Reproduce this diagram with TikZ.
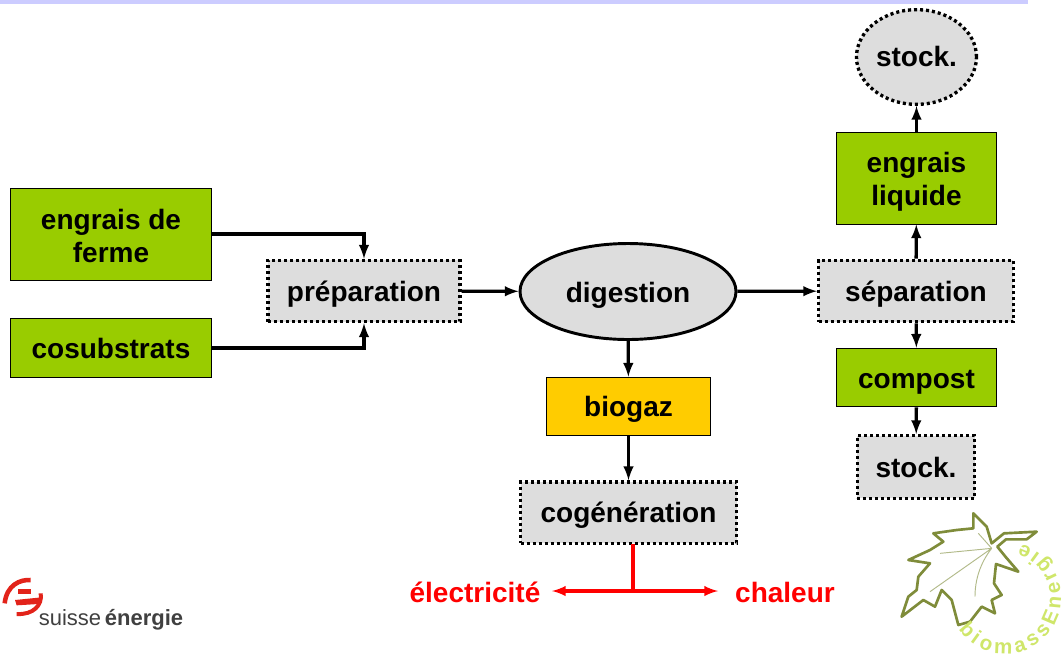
\documentclass[tikz,border=0pt]{standalone}
\usepackage{fontspec}
\setmainfont{Liberation Sans}
\usetikzlibrary{shapes.geometric,decorations.text}

\definecolor{barcol}{HTML}{CCCCFF}
\definecolor{greencol}{HTML}{99CC00}
\definecolor{goldcol}{HTML}{FFCC00}
\definecolor{greycol}{HTML}{DDDDDD}
\definecolor{redcol}{HTML}{FF0000}
\definecolor{logored}{HTML}{E2231A}
\definecolor{leafcol}{HTML}{7F8C3A}
\definecolor{ringcol}{HTML}{CFE66A}

\tikzset{
  label/.style={font=\fontsize{21}{24.75}\selectfont\bfseries,align=center,inner sep=0pt},
  oneline/.style={text height=15.5pt,text depth=0.5pt},
  input/.style={label,rectangle,draw=black,line width=0.7pt,fill=greencol},
  gasbox/.style={label,oneline,rectangle,draw=black,line width=0.7pt,fill=goldcol},
  process/.style={label,oneline,rectangle,draw=black,fill=greycol,line width=2.5pt,dash pattern=on 2.3pt off 2.2pt},
  roundstock/.style={label,ellipse,draw=black,fill=greycol,line width=2.5pt,dash pattern=on 2.3pt off 2.2pt},
  flow/.style={line width=2.5pt,-latex},
  redflow/.style={line width=2.5pt,-latex,draw=redcol}
}

\begin{document}
\begin{tikzpicture}[x=0.75pt,y=-0.75pt]

\useasboundingbox (0,0) rectangle (1064,669);
\fill[barcol] (0,0) rectangle (1028,3.5);

  \node (ferme) at (111,234) [input,minimum width=151pt,minimum height=69pt] {\rule{0pt}{18pt}engrais de\\ferme};
  \node (cosub) at (111,348) [input,oneline,minimum width=151pt,minimum height=44pt] {cosubstrats};
  \node (prep) at (364,291) [process,minimum width=144pt,minimum height=46pt] {préparation};
  \node (dig) at (628,291.5) [label,oneline,ellipse,draw=black,fill=greycol,line width=2.2pt,minimum width=162pt,minimum height=72pt,text height=16.5pt] {digestion};
  \node (sep) at (916,291) [process,minimum width=146pt,minimum height=46pt] {séparation};
  \node (liq) at (916.5,178) [input,minimum width=120pt,minimum height=69pt] {\rule{0pt}{21pt}engrais\\liquide};
  \node (stockup) at (916.5,57) [roundstock,oneline,minimum width=90pt,minimum height=71pt,text height=14.5pt] {stock.};
  \node (compost) at (916.5,377.5) [input,oneline,minimum width=120pt,minimum height=44pt,text height=16.5pt] {compost};
  \node (stockdown) at (916,467) [process,minimum width=88pt,minimum height=47pt] {stock.};
  \node (gaz) at (628.5,406.5) [gasbox,minimum width=123pt,minimum height=44pt] {biogaz};
  \node (cogen) at (628.5,512.5) [process,minimum width=162pt,minimum height=46pt] {cogénération};

  \node (elec) at (475,592) [label,oneline,text=redcol] {électricité};
  \node (chal) at (785,592) [label,oneline,text=redcol] {chaleur};
  \coordinate (fork) at (633,591);
  \coordinate (forktop) at (633,544);
  \coordinate (elecend) at (552,591);
  \coordinate (chalend) at (718,591);

\draw[flow] (ferme.east) -| (prep.north);
\draw[flow] (cosub.east) -| (prep.south);
\draw[flow] (prep) -- (dig);
\draw[flow] (dig) -- (sep);
\draw[flow] (sep) -- (liq);
\draw[flow] (liq) -- (stockup);
\draw[flow] (sep) -- (compost);
\draw[flow] (compost) -- (stockdown);
\draw[flow] (dig) -- (gaz);
\draw[flow] (gaz) -- (cogen);

\draw[line width=2.4pt,draw=redcol] (forktop) -- (fork);
\draw[redflow] (fork) -- (elecend);
\draw[redflow] (fork) -- (chalend);

%%% suisse energie logo %%%

\begin{scope}[shift={(0,540)},x=0.25pt,y=-0.25pt]
  \draw[logored,line width=3.4pt] (14,190) .. controls (20,135) and (60,118) .. (92,120);
  \draw[logored,line width=3pt] (122,160) .. controls (128,195) and (100,225) .. (50,222);
  \fill[logored] (55,148) rectangle (92,162);
  \fill[logored] (45,180) -- (125,172) -- (115,192) -- (50,196) -- cycle;
\end{scope}
\node (suisse) at (111,620) [inner sep=0pt,text=black!75,font=\fontsize{16.5}{16.5}\selectfont] {suisse\,\textbf{énergie}};

%%% leaf logo %%%

\begin{scope}[shift={(880,500)},x=0.25pt,y=-0.25pt]
  \draw[leafcol,line width=2pt,line join=round,fill=white]
    (280,40) -- (320,80) -- (335,130) -- (372,100) -- (470,95) -- (440,118) -- (378,118) -- (352,140)
    -- (378,172) -- (415,215) -- (348,192) -- (342,250) -- (365,285) -- (335,300) -- (345,340)
    -- (305,320) -- (270,365) -- (235,375) -- (215,300) -- (185,270) -- (165,320) -- (130,300)
    -- (65,350) -- (85,290) -- (110,270) -- (115,230) -- (150,190) -- (85,180) -- (150,150)
    -- (190,125) -- (160,100) -- (230,90) -- (280,85) -- cycle;
  \draw[leafcol!60,line width=0.7pt] (335,145) -- (180,160)
    (335,145) -- (150,275)
    (335,145) .. controls (300,190) and (285,240) .. (285,290)
    (335,145) -- (295,100);
\end{scope}
\coordinate (ringstart) at (958.6,629.3);
\path[decorate,decoration={text along path,text align={fit to path},
   text={|\fontsize{15.5}{15.5}\selectfont\bfseries\color{ringcol}|biomassEnergie}}]
   (ringstart) arc[start angle=214,end angle=433,radius=42pt];

\end{tikzpicture}
\end{document}
